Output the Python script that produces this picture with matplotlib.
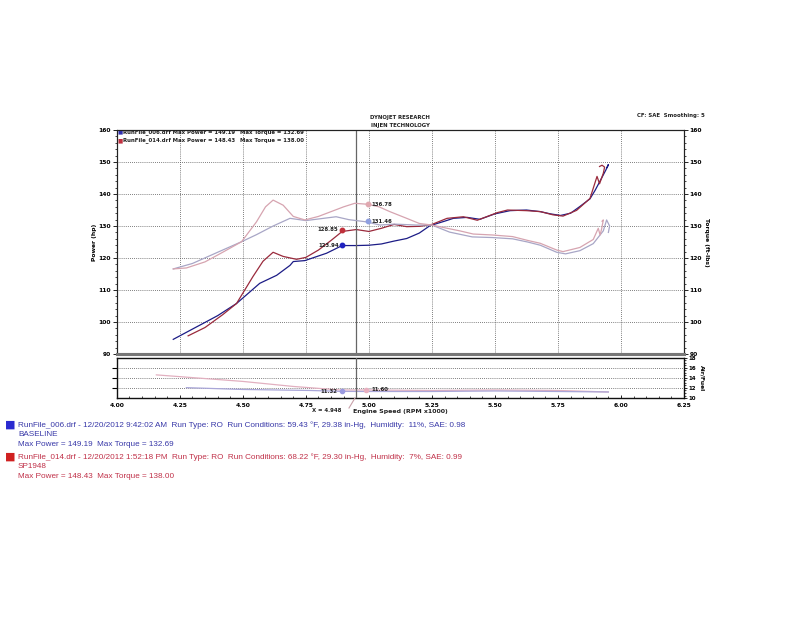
import matplotlib
matplotlib.use("Agg")
import matplotlib.pyplot as plt
from matplotlib.ticker import MultipleLocator

# ---------------- data ----------------
blue_power_rpm = [4.224, 4.30, 4.343, 4.40, 4.475, 4.567, 4.634, 4.687, 4.70, 4.746, 4.832, 4.894, 4.95, 5.0, 5.05,
                  5.10, 5.15, 5.20, 5.242, 5.30, 5.335, 5.39, 5.44, 5.50, 5.56, 5.625, 5.68, 5.72, 5.76, 5.80,
                  5.837, 5.877, 5.897, 5.92, 5.94, 5.95, 5.945]
blue_power_hp = [94.6, 97.8, 99.6, 102.0, 105.8, 112.1, 114.6, 117.7, 118.9, 119.2, 121.5, 123.9, 123.9, 124.0, 124.4,
                 125.3, 126.1, 127.8, 130.1, 131.5, 132.4, 132.7, 132.1, 133.8, 134.8, 135.0, 134.5, 133.8, 133.3, 134.0,
                 136.1, 138.5, 141.1, 144.5, 147.5, 149.2, 148.3]

red_power_rpm = [4.283, 4.35, 4.42, 4.475, 4.54, 4.58, 4.62, 4.66, 4.713, 4.75, 4.80, 4.85, 4.894, 4.95, 5.0, 5.05,
                 5.10, 5.15, 5.20, 5.25, 5.31, 5.375, 5.43, 5.51, 5.55, 5.625, 5.68, 5.73, 5.77, 5.824, 5.877,
                 5.905, 5.915, 5.93, 5.935, 5.925, 5.915]
red_power_hp = [95.7, 98.3, 102.3, 105.8, 114.2, 119.0, 121.8, 120.5, 119.6, 120.2, 122.5, 125.5, 128.3, 128.9, 128.3, 129.3,
                130.5, 129.8, 129.9, 130.5, 132.4, 132.9, 131.8, 134.2, 135.0, 134.8, 134.5, 133.5, 133.1, 134.9, 138.6,
                145.5, 143.2, 146.5, 148.4, 149.0, 148.6]

pink_torque_rpm = [4.224, 4.276, 4.35, 4.42, 4.495, 4.554, 4.59, 4.62, 4.66, 4.70, 4.746, 4.80, 4.85, 4.90, 4.944,
                   4.995, 5.04, 5.083, 5.15, 5.20, 5.25, 5.31, 5.36, 5.414, 5.49, 5.57, 5.63, 5.68, 5.745, 5.77,
                   5.837, 5.89, 5.91, 5.917, 5.923, 5.93, 5.925]
pink_torque = [116.6, 116.9, 118.8, 121.8, 125.1, 131.3, 136.0, 138.1, 136.5, 133.0, 131.9, 133.0, 134.5, 136.0, 137.1,
               136.8, 136.0, 134.5, 132.4, 130.8, 130.3, 129.3, 128.5, 127.5, 127.2, 126.7, 125.5, 124.6, 122.5, 122.0,
               123.3, 125.8, 129.3, 127.2, 129.0, 131.9, 131.5]

blue_torque_rpm = [4.224, 4.30, 4.40, 4.495, 4.554, 4.62, 4.687, 4.75, 4.80, 4.87, 4.92, 4.99, 5.044, 5.10, 5.19,
                   5.25, 5.32, 5.41, 5.49, 5.57, 5.63, 5.68, 5.745, 5.78, 5.837, 5.89, 5.93, 5.943, 5.955, 5.95]
blue_torque = [116.6, 118.3, 121.8, 125.1, 127.3, 130.0, 132.4, 131.7, 132.2, 132.9, 132.0, 131.3, 130.3, 130.6, 130.3,
               130.3, 128.1, 126.6, 126.4, 126.0, 125.0, 124.0, 121.8, 121.3, 122.3, 124.5, 128.5, 131.9, 130.0, 128.0]

blue_afr_rpm = [4.276, 4.50, 4.766, 4.894, 5.0, 5.25, 5.5, 5.75, 5.95]
blue_afr = [12.06, 11.7, 11.5, 11.32, 11.3, 11.3, 11.4, 11.3, 11.2]
pink_afr_rpm = [4.157, 4.50, 4.70, 4.885, 4.99, 5.25, 5.5, 5.75, 5.95]
pink_afr = [14.6, 13.3, 12.3, 11.6, 11.6, 11.5, 11.6, 11.5, 11.2]

x_ticks = [4.00, 4.25, 4.50, 4.75, 5.00, 5.25, 5.50, 5.75, 6.00, 6.25]
y_ticks = [90, 100, 110, 120, 130, 140, 150, 160]
afr_ticks = [10, 12, 14, 16, 18]

cursor_x = 4.948
blue_power_mark = (4.895, 123.94)
red_power_mark = (4.895, 128.85)
pink_torque_mark = (4.995, 136.78)
blue_torque_mark = (4.995, 131.46)
blue_afr_mark = (4.894, 11.32)
pink_afr_mark = (4.99, 11.60)

# ---------------- style ----------------
BLUE = "#1c1c86"
RED = "#9a2a3c"
PINK_T = "#d6a4b0"
BLUE_T = "#a8a6c6"
AFR_B = "#a9a6d8"
AFR_P = "#e2b0c0"
FS = 4.3      # tick labels
TFS = 3.9     # small annotation texts
DARK = "#222222"

fig = plt.figure(figsize=(8, 6.19), dpi=100)
fig.patch.set_facecolor("white")

ax = fig.add_axes([0.146, 0.428, 0.709, 0.362])
ax2 = ax.twinx()
afr = fig.add_axes([0.146, 0.357, 0.709, 0.065])

for a in (ax, ax2):
    a.set_xlim(4.0, 6.25)
    a.set_ylim(90, 160)

ax.set_xticks(x_ticks)
ax.set_yticks(y_ticks)
ax.yaxis.set_minor_locator(MultipleLocator(2))
ax.tick_params(axis="x", length=0, labelbottom=False)
ax.tick_params(axis="y", which="major", direction="out", length=3, width=0.6, labelsize=FS, pad=1)
ax.tick_params(axis="y", which="minor", direction="out", length=1.5, width=0.5)
for lbl in ax.get_yticklabels():
    lbl.set_fontweight("bold")
ax.grid(True, which="major", linestyle=(0, (1, 1.5)), color="#555555", linewidth=0.6)

ax2.set_yticks(y_ticks)
ax2.yaxis.set_minor_locator(MultipleLocator(2))
ax2.tick_params(axis="y", which="major", direction="out", length=3, width=0.6, labelsize=FS, pad=1)
ax2.tick_params(axis="y", which="minor", direction="out", length=1.5, width=0.5)
for lbl in ax2.get_yticklabels():
    lbl.set_fontweight("bold")

for a in (ax, ax2):
    for s in ("left", "top", "right"):
        a.spines[s].set_color(DARK)
        a.spines[s].set_linewidth(0.8)
    a.spines["bottom"].set_color("#777777")
    a.spines["bottom"].set_linewidth(2.2)

# torque (light) first, power on top
ax2.plot(blue_torque_rpm, blue_torque, color=BLUE_T, lw=0.9)
ax2.plot(pink_torque_rpm, pink_torque, color=PINK_T, lw=0.9)
ax.plot(blue_power_rpm, blue_power_hp, color=BLUE, lw=0.9, zorder=3)
ax.plot(red_power_rpm, red_power_hp, color=RED, lw=0.9, zorder=3)

# cursor markers
ax.plot(*blue_power_mark, "o", color="#1f22c0", ms=3.2, zorder=4)
ax.plot(*red_power_mark, "o", color="#c0303a", ms=3.2, zorder=4)
ax2.plot(*pink_torque_mark, "o", color="#e0a8b0", ms=3.2, zorder=4)
ax2.plot(*blue_torque_mark, "o", color="#8f9fe0", ms=3.2, zorder=4)
ax.text(blue_power_mark[0] - 0.015, blue_power_mark[1], f"{blue_power_mark[1]:.2f}", ha="right", va="center",
        fontsize=TFS, fontweight="bold", color=DARK)
ax.text(red_power_mark[0] - 0.015, red_power_mark[1], f"{red_power_mark[1]:.2f}", ha="right", va="center",
        fontsize=TFS, fontweight="bold", color=DARK)
ax2.text(pink_torque_mark[0] + 0.015, pink_torque_mark[1], f"{pink_torque_mark[1]:.2f}", ha="left", va="center",
         fontsize=TFS, fontweight="bold", color=DARK)
ax2.text(blue_torque_mark[0] + 0.015, blue_torque_mark[1], f"{blue_torque_mark[1]:.2f}", ha="left", va="center",
         fontsize=TFS, fontweight="bold", color=DARK)

ax.axvline(cursor_x, color="#666666", lw=0.9, zorder=5)

ax.set_ylabel("Power (hp)", fontsize=FS, fontweight="bold", labelpad=1)
ax2.set_ylabel("Torque (ft-lbs)", fontsize=FS, fontweight="bold", rotation=270, labelpad=5)

# in-plot legend
ax.text(4.001, 159.3, "\u25A0", color="#3030b0", fontsize=4, va="center", ha="left")
ax.text(4.001, 156.7, "\u25A0", color="#c03040", fontsize=4, va="center", ha="left")
ax.text(4.026, 159.3, "RunFile_006.drf Max Power = 149.19", fontsize=TFS, fontweight="bold", va="center", color=DARK)
ax.text(4.49, 159.3, "Max Torque = 132.69", fontsize=TFS, fontweight="bold", va="center", color=DARK)
ax.text(4.026, 156.7, "RunFile_014.drf Max Power = 148.43", fontsize=TFS, fontweight="bold", va="center", color=DARK)
ax.text(4.49, 156.7, "Max Torque = 138.00", fontsize=TFS, fontweight="bold", va="center", color=DARK)

# AFR panel
afr.set_xlim(4.0, 6.25)
afr.set_ylim(10, 18)
afr.set_xticks(x_ticks)
afr.set_xticklabels([f"{v:.2f}" for v in x_ticks], fontsize=FS, fontweight="bold")
afr.xaxis.set_minor_locator(MultipleLocator(0.05))
afr.tick_params(axis="x", which="major", direction="in", length=2.5, width=0.6, pad=3.5)
afr.tick_params(axis="x", which="minor", direction="in", length=1.5, width=0.5)
afr.set_yticks([12, 14, 16])
afr.yaxis.set_tick_params(left=False, labelleft=False)
afr.grid(True, axis="y", linestyle=(0, (1, 1.5)), color="#555555", linewidth=0.6)
for s in afr.spines.values():
    s.set_color("#111111")
    s.set_linewidth(1.0)
afr_r = afr.twinx()
afr_r.set_ylim(10, 18)
afr_r.set_yticks(afr_ticks)
afr_r.yaxis.set_minor_locator(MultipleLocator(0.5))
afr_r.tick_params(axis="y", which="major", direction="out", length=2.5, width=0.6, labelsize=FS - 0.3, pad=1)
afr_r.tick_params(axis="y", which="minor", direction="out", length=1.2, width=0.5)
for lbl in afr_r.get_yticklabels():
    lbl.set_fontweight("bold")
for s in afr_r.spines.values():
    s.set_visible(False)
afr_r.set_ylabel("Air/Fuel", fontsize=FS, fontweight="bold", rotation=270, labelpad=6)

afr.plot(pink_afr_rpm, pink_afr, color=AFR_P, lw=0.9)
afr.plot(blue_afr_rpm, blue_afr, color=AFR_B, lw=0.9)
afr.plot(*blue_afr_mark, "o", color="#9a9ae0", ms=3, zorder=4)
afr.plot(*pink_afr_mark, "o", color="#e8b0c0", ms=3, zorder=4)
afr.text(blue_afr_mark[0] - 0.02, blue_afr_mark[1], f"{blue_afr_mark[1]:.2f}", ha="right", va="center",
         fontsize=TFS, fontweight="bold", color=DARK)
afr.text(pink_afr_mark[0] + 0.02, pink_afr_mark[1], f"{pink_afr_mark[1]:.2f}", ha="left", va="center",
         fontsize=TFS, fontweight="bold", color=DARK)
afr.axvline(cursor_x, color="#666666", lw=0.9, zorder=5)

# cursor label below
fig.add_artist(plt.Line2D([355 / 800, 349 / 800], [1 - 398 / 619, 1 - 408 / 619], color="#c8a0a8", lw=0.8))
fig.text(327 / 800, 1 - 411 / 619, "X = 4.948", fontsize=TFS, fontweight="bold", ha="center", va="center", color=DARK)
fig.text(400 / 800, 1 - 411 / 619, "Engine Speed (RPM x1000)", fontsize=4.5, fontweight="bold",
         ha="center", va="center", color=DARK)

# header texts
fig.text(400 / 800, 1 - 117 / 619, "DYNOJET RESEARCH", fontsize=TFS, fontweight="bold", ha="center", va="center",
         color=DARK)
fig.text(400 / 800, 1 - 125 / 619, "INJEN TECHNOLOGY", fontsize=TFS, fontweight="bold", ha="center", va="center",
         color=DARK)
fig.text(705 / 800, 1 - 115 / 619, "CF: SAE  Smoothing: 5", fontsize=TFS, fontweight="bold", ha="right", va="center",
         color=DARK)

# run info at bottom
INFO_B = "#3838a8"
INFO_R = "#c03048"
IFS = 5.9
fam = ["Liberation Sans", "DejaVu Sans"]
fig.text(5 / 800, 1 - 425 / 619, "\u25A0", color="#2a2ad0", fontsize=8, ha="left", va="center")
fig.text(18 / 800, 1 - 425 / 619,
         "RunFile_006.drf - 12/20/2012 9:42:02 AM  Run Type: RO  Run Conditions: 59.43 \u00b0F, 29.38 in-Hg,  Humidity:  11%, SAE: 0.98",
         color=INFO_B, fontsize=IFS, family=fam, ha="left", va="center")
fig.text(18 / 800, 1 - 434.5 / 619, "BASELINE", color=INFO_B, fontsize=IFS, family=fam, ha="left", va="center")
fig.text(18 / 800, 1 - 444 / 619, "Max Power = 149.19  Max Torque = 132.69", color=INFO_B, fontsize=IFS,
         family=fam, ha="left", va="center")
fig.text(5 / 800, 1 - 457 / 619, "\u25A0", color="#d02020", fontsize=8, ha="left", va="center")
fig.text(18 / 800, 1 - 457 / 619,
         "RunFile_014.drf - 12/20/2012 1:52:18 PM  Run Type: RO  Run Conditions: 68.22 \u00b0F, 29.30 in-Hg,  Humidity:  7%, SAE: 0.99",
         color=INFO_R, fontsize=IFS, family=fam, ha="left", va="center")
fig.text(18 / 800, 1 - 466.5 / 619, "SP1948", color=INFO_R, fontsize=IFS, family=fam, ha="left", va="center")
fig.text(18 / 800, 1 - 476 / 619, "Max Power = 148.43  Max Torque = 138.00", color=INFO_R, fontsize=IFS,
         family=fam, ha="left", va="center")

fig.savefig("out.png", dpi=100, facecolor="white")
